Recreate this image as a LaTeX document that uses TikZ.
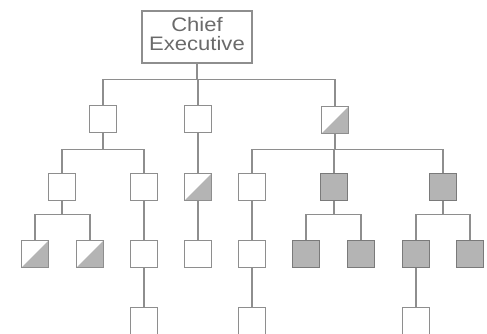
\documentclass[tikz,border=0pt]{standalone}
\usepackage{fontspec}
\setmainfont{Liberation Sans}
\begin{document}
\begin{tikzpicture}[x=1pt,y=-1pt,
  line width=1.1pt,
  conn/.style={draw=linegray},
  post/.style={draw=linegray, fill=white, minimum width=27pt, minimum height=27pt, inner sep=0pt},
  shaded/.style={post, draw=darkgray2, fill=fillgray},
  half/.style={post, path picture={\fill[fillgray] (path picture bounding box.south west) -- (path picture bounding box.north east) -- (path picture bounding box.south east) -- cycle;}},
  chief/.style={draw=linegray, fill=white, minimum width=110pt, minimum height=52pt, inner sep=0pt, align=center, text=textgray, font=\fontsize{19.5}{20}\selectfont}
]
\definecolor{linegray}{HTML}{8E8E8E}
\definecolor{darkgray2}{HTML}{7A7A7A}
\definecolor{fillgray}{HTML}{B4B4B4}
\definecolor{textgray}{HTML}{6A6A6A}
\useasboundingbox (0,0) rectangle (487,334);
% nodes
\node[chief] (ce) at (197,37) {\scalebox{1.13}[1]{\begin{tabular}{@{}c@{}}Chief\\[-1pt]Executive\end{tabular}}};
\node[post] (a) at (103,119) {};
\node[post] (b) at (198,119) {};
\node[half] (c) at (335,120) {};
\node[post] (a1) at (62,187) {};
\node[post] (a2) at (144,187) {};
\node[half] (b1) at (198,187) {};
\node[post] (c1) at (252,187) {};
\node[shaded] (c2) at (334,187) {};
\node[shaded] (c3) at (443,187) {};
\node[half] (a11) at (35,254) {};
\node[half] (a12) at (90,254) {};
\node[post] (a21) at (144,254) {};
\node[post] (b11) at (198,254) {};
\node[post] (c11) at (252,254) {};
\node[shaded] (c21) at (306,254) {};
\node[shaded] (c22) at (361,254) {};
\node[shaded] (c31) at (416,254) {};
\node[shaded] (c32) at (470,254) {};
\node[post] (a211) at (144,321) {};
\node[post] (c111) at (252,321) {};
\node[post] (c311) at (416,321) {};
% connectors
\draw[conn] (ce.south) -- ++(0,16) -| (a.north);
\draw[conn] (ce.south) -- ++(0,16) -| (b.north);
\draw[conn] (ce.south) -- ++(0,16) -| (c.north);
\draw[conn] (a.south) -- ++(0,16) -| (a1.north);
\draw[conn] (a.south) -- ++(0,16) -| (a2.north);
\draw[conn] (b.south) -- (b1.north);
\draw[conn] (c.south) -- ++(0,15) -| (c1.north);
\draw[conn] (c.south) -- ++(0,15) -| (c2.north);
\draw[conn] (c.south) -- ++(0,15) -| (c3.north);
\draw[conn] (a1.south) -- ++(0,13) -| (a11.north);
\draw[conn] (a1.south) -- ++(0,13) -| (a12.north);
\draw[conn] (a2.south) -- (a21.north);
\draw[conn] (b1.south) -- (b11.north);
\draw[conn] (c1.south) -- (c11.north);
\draw[conn] (c2.south) -- ++(0,13) -| (c21.north);
\draw[conn] (c2.south) -- ++(0,13) -| (c22.north);
\draw[conn] (c3.south) -- ++(0,13) -| (c31.north);
\draw[conn] (c3.south) -- ++(0,13) -| (c32.north);
\draw[conn] (a21.south) -- (a211.north);
\draw[conn] (c11.south) -- (c111.north);
\draw[conn] (c31.south) -- (c311.north);
\end{tikzpicture}
\end{document}
